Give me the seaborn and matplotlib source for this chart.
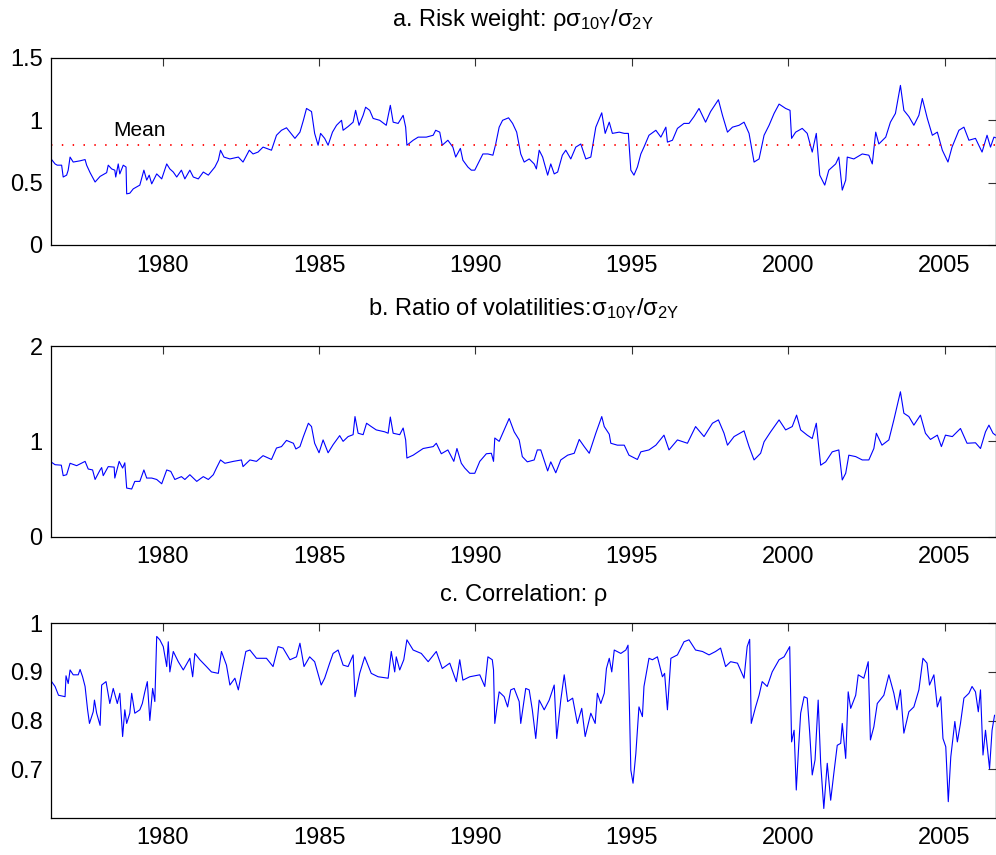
import matplotlib
matplotlib.use("Agg")
import matplotlib.pyplot as plt
from matplotlib.ticker import FuncFormatter
import numpy as np
import pandas as pd
import seaborn as sns

# ---- data: (year, value) ----
risk_weight = [
    (1976.45, 0.685), (1976.56, 0.65), (1976.63, 0.64), (1976.77, 0.64), (1976.82, 0.545),
    (1976.93, 0.56), (1976.98, 0.60), (1977.04, 0.705), (1977.14, 0.665), (1977.36, 0.675),
    (1977.52, 0.685), (1977.57, 0.64), (1977.68, 0.58), (1977.84, 0.505), (1978.0, 0.55),
    (1978.21, 0.58), (1978.26, 0.64), (1978.37, 0.61), (1978.47, 0.60), (1978.5, 0.545),
    (1978.58, 0.65), (1978.63, 0.57), (1978.74, 0.64), (1978.83, 0.625), (1978.85, 0.41),
    (1978.95, 0.415), (1979.06, 0.45), (1979.27, 0.48), (1979.4, 0.60), (1979.49, 0.52),
    (1979.57, 0.56), (1979.65, 0.49), (1979.81, 0.57), (1979.97, 0.53), (1980.13, 0.65),
    (1980.23, 0.61), (1980.34, 0.585), (1980.45, 0.545), (1980.6, 0.60), (1980.71, 0.53),
    (1980.87, 0.60), (1980.98, 0.545), (1981.14, 0.53), (1981.3, 0.585), (1981.46, 0.56),
    (1981.67, 0.625), (1981.78, 0.68), (1981.85, 0.76), (1981.96, 0.705), (1982.15, 0.69),
    (1982.42, 0.705), (1982.57, 0.665), (1982.77, 0.76), (1982.89, 0.73), (1983.05, 0.745),
    (1983.21, 0.785), (1983.48, 0.76), (1983.64, 0.88), (1983.8, 0.92), (1983.96, 0.94),
    (1984.23, 0.855), (1984.39, 0.905), (1984.5, 1.0), (1984.6, 1.095), (1984.76, 1.07),
    (1984.86, 0.895), (1984.97, 0.80), (1985.05, 0.895), (1985.18, 0.855), (1985.29, 0.80),
    (1985.43, 0.905), (1985.56, 0.96), (1985.72, 1.0), (1985.77, 0.92), (1985.93, 0.95),
    (1986.09, 0.985), (1986.17, 1.08), (1986.28, 0.96), (1986.41, 1.04), (1986.49, 1.105),
    (1986.62, 1.08), (1986.73, 1.015), (1986.94, 1.0), (1987.15, 0.96), (1987.28, 1.12),
    (1987.37, 0.985), (1987.53, 0.975), (1987.69, 1.04), (1987.77, 0.945), (1987.81, 0.80),
    (1988.01, 0.84), (1988.17, 0.865), (1988.43, 0.865), (1988.65, 0.88), (1988.73, 0.92),
    (1988.86, 0.905), (1988.94, 0.80), (1989.12, 0.84), (1989.28, 0.785), (1989.37, 0.705),
    (1989.52, 0.775), (1989.6, 0.68), (1989.76, 0.625), (1989.87, 0.60), (1989.98, 0.60),
    (1990.14, 0.68), (1990.24, 0.73), (1990.4, 0.73), (1990.56, 0.72), (1990.65, 0.81),
    (1990.76, 0.945), (1990.87, 1.0), (1991.06, 1.02), (1991.19, 0.975), (1991.32, 0.905),
    (1991.45, 0.73), (1991.56, 0.665), (1991.72, 0.69), (1991.88, 0.65), (1991.95, 0.61),
    (1992.04, 0.76), (1992.15, 0.705), (1992.31, 0.56), (1992.41, 0.65), (1992.52, 0.57),
    (1992.63, 0.585), (1992.78, 0.72), (1992.89, 0.76), (1993.05, 0.69), (1993.21, 0.785),
    (1993.37, 0.81), (1993.53, 0.69), (1993.69, 0.705), (1993.85, 0.945), (1994.04, 1.06),
    (1994.15, 0.895), (1994.28, 0.985), (1994.38, 0.895), (1994.6, 0.905), (1994.76, 0.895),
    (1994.89, 0.895), (1994.97, 0.60), (1995.07, 0.56), (1995.18, 0.625), (1995.29, 0.73),
    (1995.39, 0.785), (1995.55, 0.88), (1995.77, 0.92), (1995.93, 0.865), (1996.09, 0.945),
    (1996.14, 0.825), (1996.3, 0.84), (1996.46, 0.935), (1996.67, 0.975), (1996.83, 0.975),
    (1996.99, 1.03), (1997.15, 1.095), (1997.36, 0.985), (1997.52, 1.07), (1997.77, 1.165),
    (1997.9, 1.04), (1998.06, 0.905), (1998.22, 0.945), (1998.43, 0.96), (1998.59, 0.985),
    (1998.75, 0.895), (1998.91, 0.665), (1999.07, 0.69), (1999.23, 0.88), (1999.39, 0.96),
    (1999.55, 1.055), (1999.71, 1.13), (1999.92, 1.095), (2000.06, 1.08), (2000.11, 0.855),
    (2000.24, 0.905), (2000.45, 0.935), (2000.61, 0.895), (2000.77, 0.745), (2000.9, 0.895),
    (2001.01, 0.56), (2001.17, 0.48), (2001.3, 0.60), (2001.52, 0.65), (2001.62, 0.705),
    (2001.73, 0.44), (2001.84, 0.52), (2001.89, 0.705), (2002.1, 0.69), (2002.37, 0.73),
    (2002.58, 0.72), (2002.69, 0.65), (2002.8, 0.905), (2002.9, 0.81), (2003.12, 0.865),
    (2003.27, 0.985), (2003.43, 1.055), (2003.59, 1.28), (2003.7, 1.08), (2003.86, 1.03),
    (2004.02, 0.96), (2004.18, 1.04), (2004.29, 1.175), (2004.45, 1.015), (2004.61, 0.88),
    (2004.77, 0.905), (2004.93, 0.76), (2005.11, 0.665), (2005.24, 0.785), (2005.46, 0.92),
    (2005.62, 0.945), (2005.78, 0.84), (2005.99, 0.855), (2006.2, 0.745), (2006.36, 0.88),
    (2006.47, 0.785), (2006.58, 0.865), (2006.63, 0.86),
]

vol_ratio = [
    (1976.45, 0.78), (1976.56, 0.755), (1976.76, 0.75), (1976.82, 0.64), (1976.93, 0.65),
    (1977.04, 0.77), (1977.25, 0.745), (1977.52, 0.79), (1977.62, 0.71), (1977.76, 0.70),
    (1977.84, 0.60), (1978.0, 0.70), (1978.05, 0.725), (1978.1, 0.64), (1978.26, 0.735),
    (1978.45, 0.73), (1978.47, 0.615), (1978.61, 0.79), (1978.72, 0.72), (1978.79, 0.775),
    (1978.85, 0.51), (1979.01, 0.50), (1979.11, 0.58), (1979.27, 0.58), (1979.4, 0.70),
    (1979.49, 0.615), (1979.65, 0.615), (1979.81, 0.60), (1979.97, 0.555), (1980.13, 0.70),
    (1980.26, 0.685), (1980.39, 0.60), (1980.6, 0.63), (1980.71, 0.60), (1980.87, 0.65),
    (1981.09, 0.58), (1981.3, 0.63), (1981.46, 0.60), (1981.62, 0.65), (1981.72, 0.72),
    (1981.85, 0.805), (1981.99, 0.77), (1982.26, 0.79), (1982.52, 0.805), (1982.57, 0.735),
    (1982.79, 0.805), (1983.0, 0.79), (1983.21, 0.85), (1983.48, 0.81), (1983.64, 0.93),
    (1983.8, 0.945), (1983.96, 1.01), (1984.18, 0.98), (1984.26, 0.92), (1984.39, 0.945),
    (1984.5, 1.05), (1984.66, 1.19), (1984.76, 1.155), (1984.86, 0.98), (1985.0, 0.88),
    (1985.13, 1.015), (1985.29, 0.88), (1985.45, 0.965), (1985.66, 1.06), (1985.77, 1.0),
    (1985.93, 1.05), (1986.09, 1.07), (1986.15, 1.26), (1986.25, 1.085), (1986.41, 1.07),
    (1986.52, 1.19), (1986.67, 1.155), (1986.83, 1.12), (1987.1, 1.10), (1987.21, 1.085),
    (1987.28, 1.255), (1987.37, 1.085), (1987.58, 1.07), (1987.69, 1.14), (1987.77, 1.015),
    (1987.81, 0.825), (1988.01, 0.855), (1988.33, 0.925), (1988.65, 0.945), (1988.75, 0.98),
    (1988.91, 0.87), (1989.12, 0.91), (1989.31, 0.79), (1989.41, 0.925), (1989.55, 0.77),
    (1989.66, 0.72), (1989.82, 0.665), (1989.98, 0.665), (1990.14, 0.79), (1990.35, 0.87),
    (1990.51, 0.875), (1990.58, 0.79), (1990.62, 1.035), (1990.76, 1.0), (1990.92, 1.12),
    (1991.08, 1.24), (1991.24, 1.10), (1991.4, 1.015), (1991.5, 0.84), (1991.66, 0.785),
    (1991.88, 0.805), (1991.98, 0.91), (1992.09, 0.91), (1992.31, 0.69), (1992.41, 0.785),
    (1992.57, 0.67), (1992.73, 0.805), (1992.95, 0.855), (1993.16, 0.875), (1993.32, 1.02),
    (1993.48, 0.945), (1993.64, 0.875), (1993.85, 1.085), (1994.04, 1.26), (1994.12, 1.155),
    (1994.28, 1.075), (1994.33, 0.98), (1994.54, 0.96), (1994.76, 0.96), (1994.91, 0.855),
    (1995.18, 0.81), (1995.29, 0.89), (1995.55, 0.91), (1995.77, 0.96), (1996.03, 1.065),
    (1996.19, 0.91), (1996.46, 1.015), (1996.78, 0.98), (1997.04, 1.155), (1997.31, 1.05),
    (1997.58, 1.19), (1997.77, 1.225), (1997.95, 1.085), (1998.06, 0.96), (1998.27, 1.05),
    (1998.59, 1.11), (1998.75, 0.945), (1998.91, 0.805), (1999.12, 0.875), (1999.23, 0.995),
    (1999.44, 1.10), (1999.71, 1.225), (1999.92, 1.12), (2000.13, 1.155), (2000.27, 1.275),
    (2000.4, 1.12), (2000.61, 1.065), (2000.77, 1.03), (2000.9, 1.19), (2001.04, 0.75),
    (2001.2, 0.785), (2001.41, 0.89), (2001.62, 0.91), (2001.73, 0.595), (2001.84, 0.665),
    (2001.94, 0.855), (2002.16, 0.84), (2002.37, 0.805), (2002.58, 0.805), (2002.74, 0.925),
    (2002.82, 1.085), (2003.0, 0.96), (2003.22, 1.015), (2003.38, 1.225), (2003.59, 1.52),
    (2003.7, 1.295), (2003.86, 1.26), (2004.02, 1.17), (2004.23, 1.275), (2004.39, 1.085),
    (2004.55, 1.02), (2004.77, 1.065), (2004.9, 0.945), (2005.03, 1.065), (2005.25, 1.05),
    (2005.51, 1.135), (2005.72, 0.98), (2005.99, 0.985), (2006.15, 0.925), (2006.31, 1.10),
    (2006.42, 1.17), (2006.55, 1.085), (2006.63, 1.065),
]

correlation = [
    (1976.45, 0.88), (1976.56, 0.87), (1976.67, 0.852), (1976.88, 0.849), (1976.91, 0.892),
    (1976.98, 0.876), (1977.04, 0.904), (1977.14, 0.894), (1977.3, 0.894), (1977.36, 0.905),
    (1977.44, 0.89), (1977.52, 0.87), (1977.6, 0.822), (1977.66, 0.794), (1977.78, 0.818),
    (1977.82, 0.842), (1977.89, 0.815), (1978.0, 0.79), (1978.05, 0.873), (1978.19, 0.88),
    (1978.31, 0.835), (1978.42, 0.866), (1978.55, 0.835), (1978.63, 0.856), (1978.72, 0.767),
    (1978.79, 0.822), (1978.85, 0.794), (1978.95, 0.815), (1979.01, 0.856), (1979.11, 0.815),
    (1979.27, 0.822), (1979.35, 0.835), (1979.43, 0.859), (1979.51, 0.88), (1979.59, 0.80),
    (1979.68, 0.866), (1979.75, 0.839), (1979.81, 0.973), (1979.91, 0.966), (1980.02, 0.952),
    (1980.13, 0.911), (1980.18, 0.962), (1980.23, 0.90), (1980.34, 0.942), (1980.5, 0.921),
    (1980.66, 0.904), (1980.87, 0.928), (1980.96, 0.89), (1981.03, 0.938), (1981.19, 0.925),
    (1981.4, 0.911), (1981.56, 0.90), (1981.78, 0.897), (1981.88, 0.942), (1982.04, 0.914),
    (1982.15, 0.873), (1982.31, 0.887), (1982.42, 0.863), (1982.52, 0.897), (1982.66, 0.942),
    (1982.79, 0.945), (1983.0, 0.928), (1983.32, 0.928), (1983.53, 0.911), (1983.69, 0.952),
    (1983.85, 0.949), (1984.07, 0.925), (1984.28, 0.931), (1984.39, 0.959), (1984.52, 0.911),
    (1984.7, 0.931), (1984.86, 0.921), (1985.07, 0.873), (1985.18, 0.887), (1985.34, 0.918),
    (1985.45, 0.938), (1985.61, 0.945), (1985.77, 0.914), (1985.93, 0.911), (1986.09, 0.935),
    (1986.15, 0.849), (1986.3, 0.897), (1986.46, 0.931), (1986.67, 0.897), (1986.89, 0.89),
    (1987.21, 0.887), (1987.31, 0.942), (1987.42, 0.90), (1987.47, 0.931), (1987.58, 0.904),
    (1987.71, 0.925), (1987.81, 0.966), (1988.01, 0.945), (1988.27, 0.938), (1988.49, 0.921),
    (1988.75, 0.942), (1988.94, 0.907), (1989.18, 0.918), (1989.39, 0.88), (1989.5, 0.925),
    (1989.6, 0.883), (1989.82, 0.89), (1990.14, 0.894), (1990.3, 0.87), (1990.4, 0.931),
    (1990.54, 0.925), (1990.58, 0.904), (1990.62, 0.794), (1990.69, 0.828), (1990.76, 0.859),
    (1990.92, 0.849), (1991.03, 0.828), (1991.13, 0.863), (1991.24, 0.866), (1991.4, 0.839),
    (1991.45, 0.794), (1991.61, 0.866), (1991.72, 0.863), (1991.82, 0.822), (1991.93, 0.763),
    (1992.04, 0.842), (1992.2, 0.822), (1992.36, 0.842), (1992.52, 0.873), (1992.6, 0.763),
    (1992.73, 0.842), (1992.84, 0.894), (1992.95, 0.839), (1993.11, 0.846), (1993.26, 0.794),
    (1993.4, 0.825), (1993.51, 0.767), (1993.69, 0.815), (1993.83, 0.794), (1993.9, 0.856),
    (1994.01, 0.835), (1994.12, 0.856), (1994.19, 0.907), (1994.28, 0.928), (1994.36, 0.90),
    (1994.44, 0.945), (1994.65, 0.938), (1994.81, 0.945), (1994.88, 0.955), (1994.97, 0.698),
    (1995.04, 0.671), (1995.13, 0.732), (1995.23, 0.828), (1995.34, 0.808), (1995.39, 0.87),
    (1995.55, 0.928), (1995.66, 0.925), (1995.82, 0.931), (1995.98, 0.89), (1996.05, 0.897),
    (1996.14, 0.822), (1996.25, 0.928), (1996.46, 0.935), (1996.67, 0.962), (1996.83, 0.966),
    (1997.04, 0.945), (1997.26, 0.942), (1997.47, 0.935), (1997.68, 0.942), (1997.84, 0.949),
    (1998.0, 0.911), (1998.16, 0.921), (1998.38, 0.918), (1998.59, 0.887), (1998.69, 0.952),
    (1998.77, 0.967), (1998.82, 0.794), (1998.96, 0.828), (1999.07, 0.852), (1999.17, 0.88),
    (1999.33, 0.87), (1999.49, 0.90), (1999.71, 0.925), (1999.87, 0.931), (2000.05, 0.952),
    (2000.11, 0.756), (2000.19, 0.78), (2000.26, 0.657), (2000.33, 0.739), (2000.4, 0.815),
    (2000.51, 0.849), (2000.61, 0.846), (2000.69, 0.774), (2000.77, 0.688), (2000.86, 0.719),
    (2000.96, 0.842), (2001.04, 0.712), (2001.14, 0.619), (2001.25, 0.712), (2001.36, 0.636),
    (2001.46, 0.691), (2001.57, 0.749), (2001.68, 0.753), (2001.73, 0.794), (2001.84, 0.722),
    (2001.92, 0.859), (2002.0, 0.825), (2002.16, 0.852), (2002.24, 0.894), (2002.42, 0.887),
    (2002.56, 0.921), (2002.63, 0.76), (2002.74, 0.787), (2002.85, 0.835), (2003.06, 0.852),
    (2003.22, 0.894), (2003.38, 0.856), (2003.48, 0.822), (2003.59, 0.863), (2003.7, 0.774),
    (2003.86, 0.818), (2004.02, 0.828), (2004.18, 0.863), (2004.31, 0.928), (2004.44, 0.918),
    (2004.52, 0.873), (2004.66, 0.894), (2004.77, 0.828), (2004.88, 0.849), (2004.95, 0.763),
    (2005.04, 0.746), (2005.12, 0.633), (2005.2, 0.725), (2005.33, 0.798), (2005.41, 0.756),
    (2005.51, 0.794), (2005.62, 0.846), (2005.78, 0.856), (2005.88, 0.87), (2005.99, 0.859),
    (2006.08, 0.818), (2006.15, 0.863), (2006.23, 0.729), (2006.31, 0.78), (2006.44, 0.701),
    (2006.52, 0.78), (2006.6, 0.811),
]

mean_risk_weight = 0.80
year_ticks = [1980, 1985, 1990, 1995, 2000, 2005]
x_range = (1976.43, 2006.63)

titles = [
    "a. Risk weight: $\\mathregular{ρσ_{10Y}/σ_{2Y}}$",
    "b. Ratio of volatilities:$\\mathregular{σ_{10Y}/σ_{2Y}}$",
    "c. Correlation: ρ",
]
y_limits = [(0, 1.5), (0, 2), (0.6, 1.0)]
y_ticks = [[0, 0.5, 1, 1.5], [0, 1, 2], [0.7, 0.8, 0.9, 1.0]]
title_pads = [23, 22, 16]

# ---- styling ----
sns.set_theme(style="white")
plt.rcParams["font.family"] = ["Liberation Sans", "DejaVu Sans"]
plt.rcParams["mathtext.fontset"] = "custom"
plt.rcParams["mathtext.rm"] = "Liberation Sans"
plt.rcParams["mathtext.it"] = "Liberation Sans"
plt.rcParams["mathtext.bf"] = "Liberation Sans:bold"
plt.rcParams["text.color"] = "black"
plt.rcParams["axes.labelcolor"] = "black"
plt.rcParams["xtick.labelcolor"] = "black"
plt.rcParams["ytick.labelcolor"] = "black"

fig = plt.figure(figsize=(9.96, 8.55), dpi=100)
left, right = 0.0512, 0.9995
boxes = [(0.7135, 0.9322), (0.3723, 0.5953), (0.0436, 0.2710)]

series = [risk_weight, vol_ratio, correlation]
fmt = FuncFormatter(lambda v, p: f"{v:g}")

for i, (data, (b, t)) in enumerate(zip(series, boxes)):
    ax = fig.add_axes([left, b, right - left, t - b])
    df = pd.DataFrame(data, columns=["year", "value"])
    sns.lineplot(data=df, x="year", y="value", ax=ax, color="#0000ff",
                 linewidth=0.8, estimator=None, sort=False)
    if i == 0:
        ax.axhline(mean_risk_weight, color="#ff0000", linewidth=1.3,
                   linestyle=(0, (0.8, 5.2)))
        ax.text(1978.41, 0.92, "Mean", fontsize=15, ha="left", va="center",
                color="black")
    ax.set_xlim(*x_range)
    ax.set_ylim(*y_limits[i])
    ax.set_xticks(year_ticks)
    ax.set_yticks(y_ticks[i])
    ax.yaxis.set_major_formatter(fmt)
    ax.set_xlabel("")
    ax.set_ylabel("")
    ax.tick_params(direction="in", top=True, right=True, length=6, width=0.8,
                   labelsize=17, color="#333333", labelcolor="black", pad=6)
    ax.tick_params(axis="x", pad=7)
    for s in ax.spines.values():
        s.set_color("black")
        s.set_linewidth(0.9)
    ax.set_title(titles[i], fontsize=17, pad=title_pads[i], color="black")

fig.savefig("out.png", dpi=100)
